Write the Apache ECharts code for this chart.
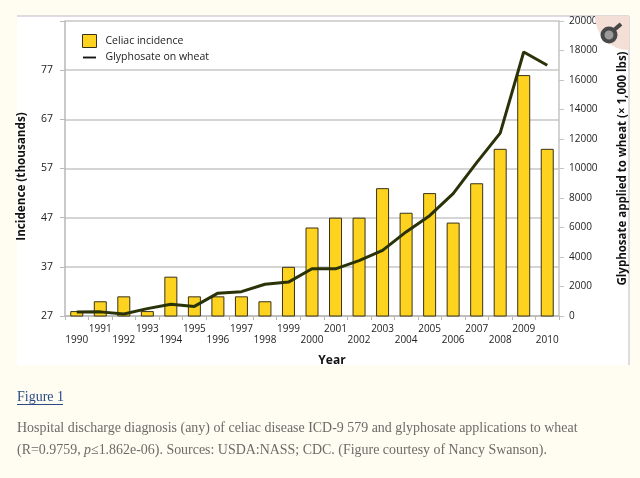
<!DOCTYPE html>
<html><head><meta charset="utf-8">
<style>html,body{margin:0;padding:0;background:#fffdf1}#c{width:640px;height:478px}</style>
<script src="https://cdn.jsdelivr.net/npm/echarts@6/dist/echarts.min.js"></script>
</head><body><div id="c"></div>
<script>
const years=['1990','1991','1992','1993','1994','1995','1996','1997','1998','1999','2000','2001','2002','2003','2004','2005','2006','2007','2008','2009','2010'];
const celiac=[28,30,31,28,35,31,31,31,30,37,45,47,47,53,48,52,46,54,61,76,61];
const glyphosate=[270,280,130,500,800,650,1550,1650,2150,2300,3200,3200,3750,4450,5700,6800,8300,10400,12400,17900,17000];
const leftTicks=[27,87];
const rightTicks=[0,20000];
const captionLines=['Hospital discharge diagnosis (any) of celiac disease ICD-9 579 and glyphosate applications to wheat','(R=0.9759, ','p','≤1.862e-06). Sources: USDA:NASS; CDC. (Figure courtesy of Nancy Swanson).'];
const sans='"Open Sans"';
const serif='"Liberation Serif"';
const chart=echarts.init(document.getElementById('c'),null,{renderer:'canvas'});
const capStyle={fill:'#6b6b68',font:'13.95px '+serif};
chart.setOption({
 animation:false,
 backgroundColor:'#fffdf1',
 grid:{left:65,right:81,top:21,bottom:162,show:false},
 legend:{orient:'vertical',left:77,top:29,itemWidth:14,itemHeight:13,itemGap:3,
  textStyle:{fontFamily:sans,fontSize:10.5,color:'#222',padding:[0,0,0,4]},
  data:[{name:'Celiac incidence',icon:'rect',itemStyle:{borderColor:'#3a3218',borderWidth:1}},
        {name:'Glyphosate on wheat',icon:'path://M0 0L0 0M0 6H14V8H0ZM14 14L14 14',itemStyle:{color:'#111',borderWidth:0}}]},
 xAxis:{type:'category',data:years,
  name:'Year',nameLocation:'middle',nameGap:39,
  nameTextStyle:{fontFamily:sans,fontWeight:'bold',fontSize:12,color:'#111',padding:[0,0,0,40]},
  axisLine:{lineStyle:{color:'#b8b8b8',width:1.5}},
  axisTick:{show:true,alignWithLabel:false,length:4,lineStyle:{color:'#b8b8b8'}},
  axisLabel:{interval:0,margin:8,fontFamily:sans,fontSize:10,color:'#222',lineHeight:11,
   hideOverlap:false,
   formatter:(v,i)=>i%2===0?'\n'+v:v+'\n'}},
 yAxis:[{type:'value',min:leftTicks[0],max:leftTicks[1],interval:10,
   name:'Incidence (thousands)',nameLocation:'middle',nameGap:37,
   nameTextStyle:{fontFamily:sans,fontWeight:'bold',fontSize:11.7,color:'#111',padding:[0,16,0,0]},
   axisLine:{show:true,lineStyle:{color:'#b8b8b8',width:1.5}},
   axisTick:{show:true,length:5,lineStyle:{color:'#b8b8b8'}},
   axisLabel:{margin:12,fontFamily:sans,fontSize:10.5,color:'#222',
     formatter:v=>v===87?'':String(v)},
   splitLine:{show:true,lineStyle:{color:'#c9c7c9',width:1.5}}},
  {type:'value',min:rightTicks[0],max:rightTicks[1],interval:2000,position:'right',
   name:'Glyphosate applied to wheat (× 1,000 lbs)',nameLocation:'middle',nameGap:58,nameRotate:90,
   nameTextStyle:{fontFamily:sans,fontWeight:'bold',fontSize:11.5,color:'#111'},
   axisLine:{show:true,lineStyle:{color:'#c4c4c4',width:1.5}},
   axisTick:{show:true,length:5,lineStyle:{color:'#c4c4c4'}},
   axisLabel:{margin:10,fontFamily:sans,fontSize:10,color:'#222',formatter:v=>String(v)},
   splitLine:{show:false}}],
 series:[
  {name:'Celiac incidence',type:'bar',yAxisIndex:0,data:celiac,barWidth:13,
   itemStyle:{color:'#fdd31f',borderColor:'#3a3218',borderWidth:1}},
  {name:'Glyphosate on wheat',type:'line',yAxisIndex:1,data:glyphosate,
   symbol:'none',lineStyle:{color:'#2a3308',width:3},itemStyle:{color:'#1c1c10'},z:5}
 ],
 graphic:[
  {type:'rect',z:-10,silent:true,shape:{x:17,y:16,width:612,height:349},style:{fill:'#ffffff'}},
  {type:'line',z:-9,silent:true,shape:{x1:17,y1:16,x2:629,y2:16},style:{stroke:'#c4b4cc',lineWidth:1}},
  {type:'line',z:-9,silent:true,shape:{x1:629,y1:16,x2:629,y2:365},style:{stroke:'#c4b4cc',lineWidth:1}},
  {type:'sector',z:90,silent:true,shape:{cx:629,cy:16,r:34,startAngle:Math.PI/2,endAngle:Math.PI},style:{fill:'#f3dfd5'}},
  {type:'circle',z:91,silent:true,shape:{cx:609,cy:35,r:6.5},style:{fill:'#9a9a9a',stroke:'#484848',lineWidth:4}},
  {type:'line',z:91,silent:true,shape:{x1:614,y1:30,x2:621,y2:24},style:{stroke:'#484848',lineWidth:4}},
  {type:'text',left:17,top:390,style:{text:'Figure 1',fill:'#2d4a86',font:'14px '+serif}},
  {type:'line',silent:true,shape:{x1:17,y1:404.5,x2:63,y2:404.5},style:{stroke:'#2d4a86',lineWidth:1}},
  {type:'text',left:17,top:421,style:Object.assign({text:captionLines[0]},capStyle)},
  {type:'text',left:17,top:443,style:Object.assign({text:captionLines[1]},capStyle)},
  {type:'text',left:84,top:443,style:Object.assign({text:captionLines[2]},capStyle,{font:'italic 13.95px '+serif})},
  {type:'text',left:91,top:443,style:Object.assign({text:captionLines[3]},capStyle)}
 ]
});
</script></body></html>
